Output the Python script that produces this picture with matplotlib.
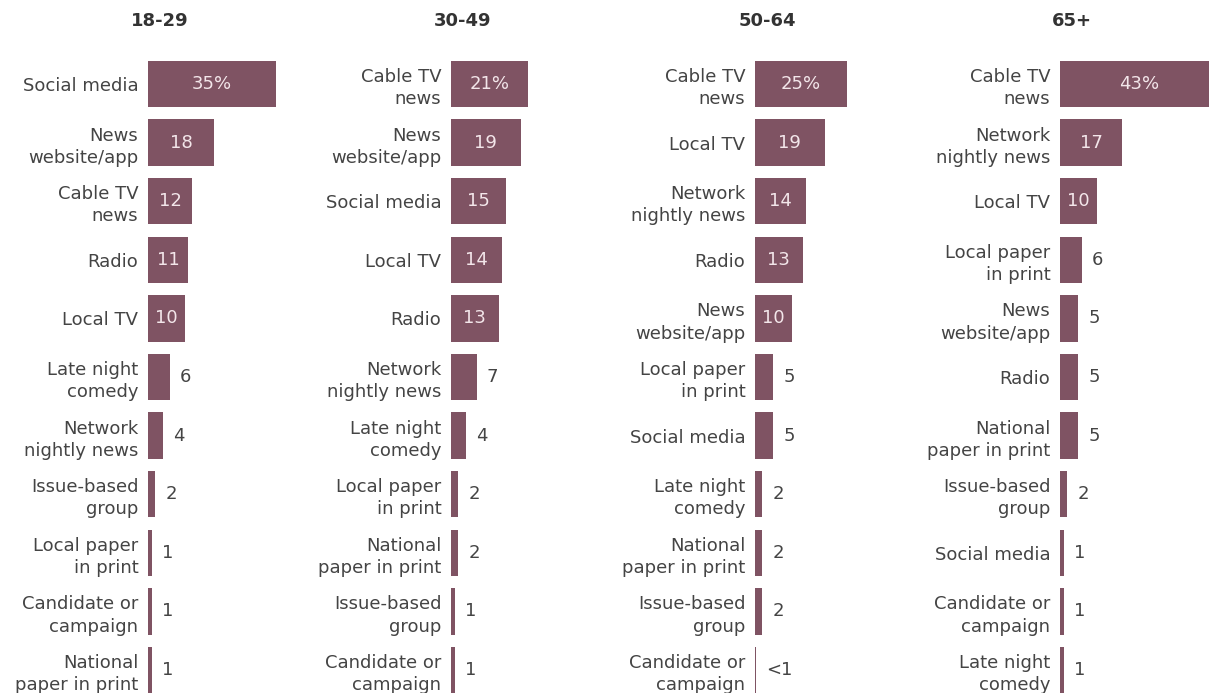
import matplotlib
matplotlib.use('Agg')
import matplotlib.pyplot as plt

# Datos por grupo de edad
grupos = ['18-29', '30-49', '50-64', '65+']

etiquetas_18_29 = ['Social media', 'News\nwebsite/app', 'Cable TV\nnews', 'Radio', 'Local TV',
                   'Late night\ncomedy', 'Network\nnightly news', 'Issue-based\ngroup',
                   'Local paper\nin print', 'Candidate or\ncampaign', 'National\npaper in print']
valores_18_29 = [35, 18, 12, 11, 10, 6, 4, 2, 1, 1, 1]

etiquetas_30_49 = ['Cable TV\nnews', 'News\nwebsite/app', 'Social media', 'Local TV', 'Radio',
                   'Network\nnightly news', 'Late night\ncomedy', 'Local paper\nin print',
                   'National\npaper in print', 'Issue-based\ngroup', 'Candidate or\ncampaign']
valores_30_49 = [21, 19, 15, 14, 13, 7, 4, 2, 2, 1, 1]

etiquetas_50_64 = ['Cable TV\nnews', 'Local TV', 'Network\nnightly news', 'Radio',
                   'News\nwebsite/app', 'Local paper\nin print', 'Social media',
                   'Late night\ncomedy', 'National\npaper in print', 'Issue-based\ngroup',
                   'Candidate or\ncampaign']
valores_50_64 = [25, 19, 14, 13, 10, 5, 5, 2, 2, 2, 0.4]

etiquetas_65 = ['Cable TV\nnews', 'Network\nnightly news', 'Local TV', 'Local paper\nin print',
                'News\nwebsite/app', 'Radio', 'National\npaper in print', 'Issue-based\ngroup',
                'Social media', 'Candidate or\ncampaign', 'Late night\ncomedy']
valores_65 = [43, 17, 10, 6, 5, 5, 5, 2, 1, 1, 1]

etiquetas = [etiquetas_18_29, etiquetas_30_49, etiquetas_50_64, etiquetas_65]
valores = [valores_18_29, valores_30_49, valores_50_64, valores_65]

color_barra = '#7f5363'
color_texto = '#444444'

W, H = 1209, 693
fig = plt.figure(figsize=(W / 100, H / 100), dpi=100)

# Posicion (px) del borde izquierdo de las barras en cada panel
x_izq = [148, 451, 755, 1060]
px_por_unidad = 3.67
xmax = 45
fila0, paso = 84, 58.6
n = 11
top_px = fila0 - paso / 2
alto_px = paso * n

for k in range(4):
    ax = fig.add_axes([x_izq[k] / W, (H - top_px - alto_px) / H,
                       px_por_unidad * xmax / W, alto_px / H])
    vals = valores[k]
    ys = list(range(n))
    ax.barh(ys, vals, height=0.795, color=color_barra)
    ax.set_xlim(0, xmax)
    ax.set_ylim(n - 0.5, -0.5)
    ax.set_yticks(ys)
    ax.set_yticklabels(etiquetas[k], fontsize=13, color=color_texto, linespacing=1.3)
    ax.tick_params(axis='y', length=0, pad=7)
    ax.set_xticks([])
    for s in ax.spines.values():
        s.set_visible(False)
    ax.patch.set_visible(False)

    for i, v in enumerate(vals):
        if v < 1:
            txt = '<1'
        elif i == 0:
            txt = f'{v}%'
        else:
            txt = f'{v}'
        if v >= 10:
            ax.text(v / 2, i, txt, ha='center', va='center', fontsize=13, color='#f3e6ea')
        else:
            ax.text(v + 10 / px_por_unidad, i, txt, ha='left', va='center',
                    fontsize=13, color=color_texto)

    fig.text((x_izq[k] + 12) / W, 1 - 21 / H, grupos[k], ha='center', va='center',
             fontsize=13, fontweight='bold', color='#333333')

fig.savefig('out.png', dpi=100)
